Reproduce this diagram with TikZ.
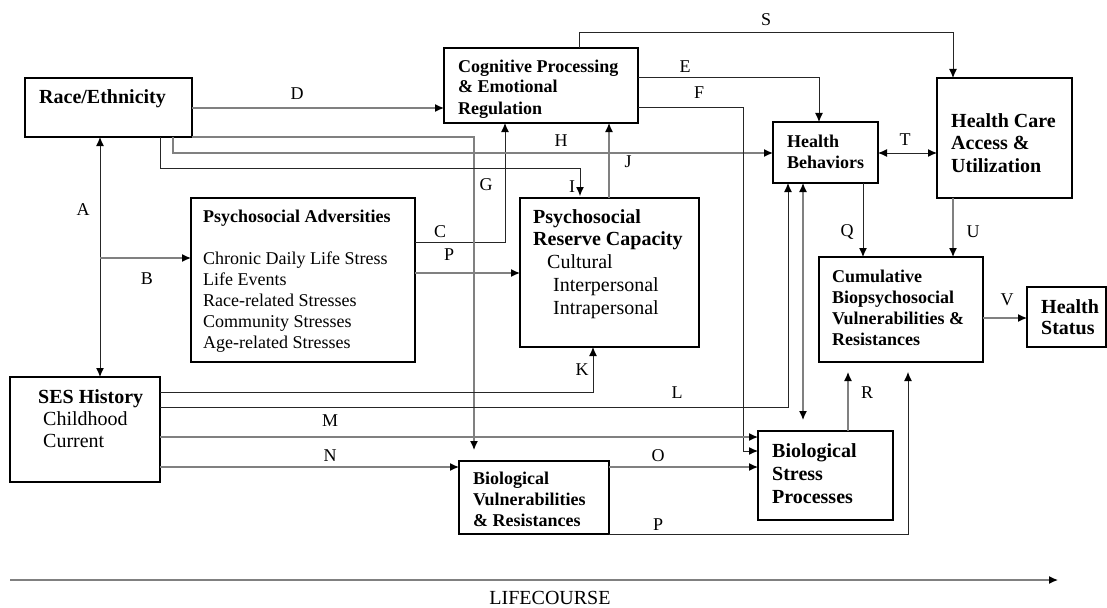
\documentclass[tikz,border=0pt]{standalone}
\usepackage{fontspec}
\setmainfont{Liberation Serif}
\usetikzlibrary{arrows.meta}
\tikzset{
  box/.style   = {shape=rectangle, draw, line width=1.1pt, inner sep=0pt,
                  outer sep=0pt, anchor=north west},
  txt/.style   = {align=left, inner sep=0pt, anchor=base west},
  big/.style   = {font=\fontsize{20}{#1}\selectfont},
  lbl/.style   = {inner sep=0pt},
  tip/.tip     = {Latex[length=9pt,width=8pt,color=black]},
  link/.style  = {draw=black!85, line width=1pt, -tip},
  glink/.style = {link, draw=black!50, line width=1.3pt},
  dlink/.style = {link, tip-tip},
  gdlink/.style= {glink, tip-tip}
}

\begin{document}
\begin{tikzpicture}[x=1pt, y=-1pt, font=\fontsize{18}{21}\selectfont]
  \useasboundingbox (0,0) rectangle (1107,607);

  % boxes
  \node [box, minimum width=167, minimum height=59]  (race) at (25,78)   {};
  \node [box, minimum width=194, minimum height=75]  (cog)  at (444,48)  {};
  \node [box, minimum width=224, minimum height=164] (adv)  at (191,198) {};
  \node [box, minimum width=179, minimum height=149] (res)  at (520,198) {};
  \node [box, minimum width=150, minimum height=105] (ses)  at (10,377)  {};
  \node [box, minimum width=105, minimum height=61]  (hb)   at (773,122) {};
  \node [box, minimum width=135, minimum height=120] (hc)   at (937,78)  {};
  \node [box, minimum width=164, minimum height=105] (cum)  at (819,257) {};
  \node [box, minimum width=79,  minimum height=60]  (hs)   at (1027,287) {};
  \node [box, minimum width=150, minimum height=73]  (bv)   at (459,461) {};
  \node [box, minimum width=135, minimum height=89]  (bs)   at (758,431) {};

  % box texts (anchored at the baseline of the last line)
  \node [txt, big=21] (racetxt) at ([shift={(14,25)}]race.north west) {\textbf{Race/Ethnicity}};
  \node [txt] (cogtxt)  at ([shift={(14,66)}]cog.north west)
        {\textbf{Cognitive Processing}\\\textbf{\& Emotional}\\\textbf{Regulation}};
  \node [txt] (advtxt)  at ([shift={(12,150)}]adv.north west)
        {\textbf{Psychosocial Adversities}\\[21pt]Chronic Daily Life Stress\\Life Events\\
         Race-related Stresses\\Community Stresses\\Age-related Stresses};
  \node [txt, big=22.7] (restxt) at ([shift={(13,116)}]res.north west)
        {\textbf{Psychosocial}\\\textbf{Reserve Capacity}\\\hspace{14pt}Cultural\\
         \hspace{20pt}Interpersonal\\\hspace{20pt}Intrapersonal};
  \node [txt, big=22] (sestxt)  at ([shift={(28,70)}]ses.north west)
        {\textbf{SES History}\\\hspace{5pt}Childhood\\\hspace{5pt}Current};
  \node [txt] (hbtxt)   at ([shift={(14,46)}]hb.north west)  {\textbf{Health}\\\textbf{Behaviors}};
  \node [txt, big=22.5] (hctxt)   at ([shift={(14,94)}]hc.north west)
        {\textbf{Health Care}\\\textbf{Access \&}\\\textbf{Utilization}};
  \node [txt] (cumtxt)  at ([shift={(13,88)}]cum.north west)
        {\textbf{Cumulative}\\\textbf{Biopsychosocial}\\\textbf{Vulnerabilities \&}\\\textbf{Resistances}};
  \node [txt, big=21] (hstxt)   at ([shift={(14,47)}]hs.north west)  {\textbf{Health}\\\textbf{Status}};
  \node [txt] (bvtxt)   at ([shift={(14,65)}]bv.north west)
        {\textbf{Biological}\\\textbf{Vulnerabilities}\\\textbf{\& Resistances}};
  \node [txt, big=23] (bstxt)   at ([shift={(14,72)}]bs.north west)
        {\textbf{Biological}\\\textbf{Stress}\\\textbf{Processes}};

  % connectors
  \coordinate (bsplit) at (100,258);
  \draw [dlink] (race.south -| 100,0) -- (ses.north -| 100,0);
  \draw [glink] (bsplit) -- (adv.west |- bsplit);
  \draw [link]  (adv.east |- 0,242) -| (cog.south -| 505,0);
  \draw [glink] (adv.east |- 0,273) -- (res.west |- 0,273);
  \draw [glink] (race.east |- 0,108) -- (cog.west |- 0,108);
  \draw [glink, shorten >=11pt] (race.south east) -| (bv.north -| 474,0);
  \draw [glink] (race.south -| 173,0) |- (hb.west |- 0,153);
  \draw [link, shorten >=2pt] (race.south -| 160,0) |- (580,168) -- (res.north -| 580,0);
  \draw [glink] (res.north -| 609,0) -- (cog.south -| 609,0);
  \draw [link]  (cog.east |- 0,78) -| (hb.north -| 819,0);
  \draw [link]  (cog.east |- 0,108) -| (743,451) -- (bs.west |- 0,451);
  \draw [link]  (cog.north -| 579,0) |- (953,33) -- (hc.north -| 953,0);
  \draw [dlink] (hb.east |- 0,153) -- (hc.west |- 0,153);
  \draw [link]  (hb.south -| 863,0) -- (cum.north -| 863,0);
  \draw [glink] (hc.south -| 953,0) -- (cum.north -| 953,0);
  \draw [glink] (cum.east |- 0,318) -- (hs.west |- 0,318);
  \draw [link]  (ses.east |- 0,392) -| (res.south -| 593,0);
  \draw [link]  (ses.east |- 0,407) -| (hb.south -| 788,0);
  \draw [glink] (ses.east |- 0,437) -- (bs.west |- 0,437);
  \draw [glink] (ses.east |- 0,467) -- (bv.west |- 0,467);
  \draw [glink] (bv.east |- 0,467) -- (bs.west |- 0,467);
  \draw [gdlink, shorten >=11pt] (hb.south -| 803,0) -- (bs.north -| 803,0);
  \draw [glink, shorten >=10pt] (bs.north -| 848,0) -- (cum.south -| 848,0);
  \draw [link, shorten >=10pt] (bv.south east) -| (cum.south -| 908,0);

  % lifecourse
  \coordinate (lifestart) at (10,580);
  \coordinate (lifeend)   at (1058,580);
  \draw [glink] (lifestart) -- (lifeend);
  \node [lbl, big=21] (life) at (550,598) {LIFECOURSE};

  % path labels
  \node [lbl] (la) at (83,210)  {A};
  \node [lbl] (lb) at (147,279) {B};
  \node [lbl] (lc) at (440,232) {C};
  \node [lbl] (lp) at (449,255) {P};
  \node [lbl] (ld) at (297,94)  {D};
  \node [lbl] (le) at (685,67)  {E};
  \node [lbl] (lf) at (699,93)  {F};
  \node [lbl] (lg) at (486,185) {G};
  \node [lbl] (lh) at (561,141) {H};
  \node [lbl] (li) at (572,187) {I};
  \node [lbl] (lj) at (628,162) {J};
  \node [lbl] (lk) at (582,370) {K};
  \node [lbl] (ll) at (677,393) {L};
  \node [lbl] (lm) at (330,421) {M};
  \node [lbl] (ln) at (330,456) {N};
  \node [lbl] (lo) at (658,456) {O};
  \node [lbl] (lq) at (658,525) {P};
  \node [lbl] (lq2) at (847,232) {Q};
  \node [lbl] (lr) at (867,393) {R};
  \node [lbl] (ls) at (766,20)  {S};
  \node [lbl] (lt) at (905,140) {T};
  \node [lbl] (lu) at (973,232) {U};
  \node [lbl] (lv) at (1007,300) {V};
\end{tikzpicture}
\end{document}
